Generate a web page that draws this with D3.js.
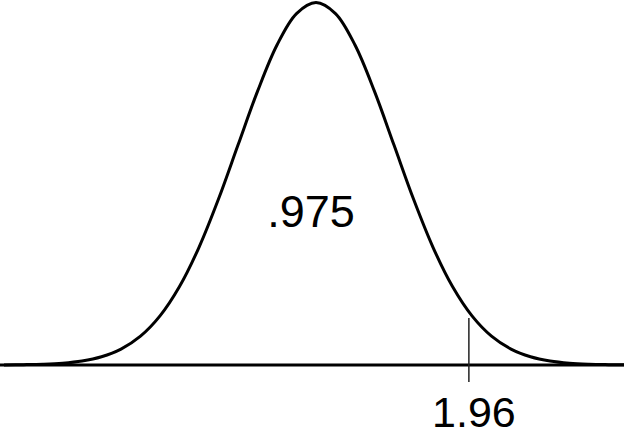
<!DOCTYPE html>
<html>
<head>
<meta charset="utf-8">
<script src="https://cdn.jsdelivr.net/npm/d3@7"></script>
<style>
  html, body { margin: 0; padding: 0; background: #fff; }
  svg { display: block; }
</style>
</head>
<body>
<svg id="chart" width="624" height="442"></svg>
<script>
// z-values and standard normal density read at those points
const zValues = [-4, -3.75, -3.5, -3.25, -3, -2.75, -2.5, -2.25, -2, -1.75, -1.5, -1.25, -1, -0.75, -0.5, -0.25,
                 0, 0.25, 0.5, 0.75, 1, 1.25, 1.5, 1.75, 2, 2.25, 2.5, 2.75, 3, 3.25, 3.5, 3.75, 4];
const densities = [0.0001, 0.0004, 0.0009, 0.0020, 0.0044, 0.0091, 0.0175, 0.0317, 0.0540, 0.0863, 0.1295, 0.1826, 0.2420, 0.3011, 0.3521, 0.3867,
                   0.3989, 0.3867, 0.3521, 0.3011, 0.2420, 0.1826, 0.1295, 0.0863, 0.0540, 0.0317, 0.0175, 0.0091, 0.0044, 0.0020, 0.0009, 0.0004, 0.0001];
const criticalValue = [1.96];
const tickLabels = ["1.96"];
const areaLabel = ".975";

const svg = d3.select("#chart");
const W = 624, H = 442;

const x = d3.scaleLinear().domain([0, 1]).range([316, 394]);
const y = d3.scaleLinear().domain([0, 0.3989]).range([365, 2.5]);

const pts = zValues.map((z, i) => [z, densities[i]]);

// baseline
svg.append("line")
  .attr("x1", 0).attr("x2", W)
  .attr("y1", y(0)).attr("y2", y(0))
  .attr("stroke", "#000").attr("stroke-width", 3);

// curve
const line = d3.line()
  .x(d => x(d[0]))
  .y(d => y(d[1]))
  .curve(d3.curveCatmullRom.alpha(0.5));

svg.append("path")
  .datum(pts)
  .attr("d", line)
  .attr("fill", "none")
  .attr("stroke", "#000")
  .attr("stroke-width", 3)
  .attr("stroke-linejoin", "round");

// critical value tick
svg.selectAll("line.crit")
  .data(criticalValue)
  .enter().append("line")
  .attr("class", "crit")
  .attr("x1", d => x(d)).attr("x2", d => x(d))
  .attr("y1", 318).attr("y2", 382)
  .attr("stroke", "#222").attr("stroke-width", 1.5);

svg.selectAll("text.tick")
  .data(criticalValue)
  .enter().append("text")
  .attr("class", "tick")
  .attr("x", d => x(d) + 5)
  .attr("y", 427)
  .attr("text-anchor", "middle")
  .attr("font-family", "Liberation Sans, Arial, sans-serif")
  .attr("font-size", 43)
  .attr("fill", "#000")
  .text((d, i) => tickLabels[i]);

svg.append("text")
  .attr("x", 311)
  .attr("y", 227)
  .attr("text-anchor", "middle")
  .attr("font-family", "Liberation Sans, Arial, sans-serif")
  .attr("font-size", 45)
  .attr("fill", "#000")
  .text(areaLabel);
</script>
</body>
</html>
